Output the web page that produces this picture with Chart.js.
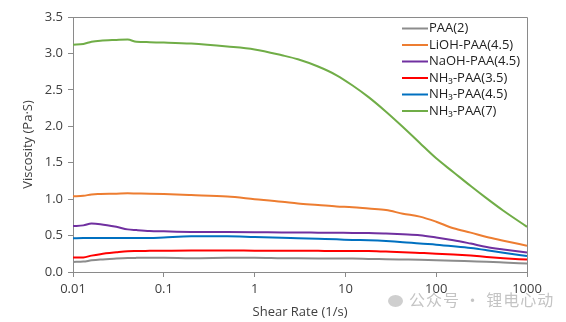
<!DOCTYPE html>
<html>
<head>
<meta charset="utf-8">
<script src="https://cdn.jsdelivr.net/npm/chart.js@4/dist/chart.umd.min.js"></script>
<style>
  html, body { margin: 0; padding: 0; background: #fff; }
  #wrap { position: relative; width: 566px; height: 322px; }
  #mark {
    position: absolute; left: 388px; top: 287px;
    font: 16px "Noto Sans CJK SC", sans-serif; color: #c4c4c4;
    letter-spacing: 1px; white-space: nowrap;
  }
  #mark .dot {
    display: inline-block; width: 15px; height: 12px; border-radius: 50%;
    background: #cfcfcf; margin-right: 6px; vertical-align: -1px;
  }
</style>
</head>
<body>
<div id="wrap">
  <canvas id="chart" width="566" height="322"></canvas>
  <div id="mark"><span class="dot"></span>公众号 · 锂电心动</div>
</div>
<script>
// shear rate (1/s), shared by every curve
const shearRate = [0.01, 0.013, 0.016, 0.02, 0.03, 0.04, 0.05, 0.07, 0.1, 0.2, 0.5, 1, 2, 3, 5, 8, 12, 18, 28, 43, 66, 100, 155, 240, 360, 550, 1000];

const paa2      = [0.138, 0.143, 0.16, 0.172, 0.185, 0.192, 0.194, 0.195, 0.195, 0.19, 0.195, 0.197, 0.19, 0.188, 0.186, 0.185, 0.184, 0.18, 0.176, 0.172, 0.168, 0.16, 0.155, 0.147, 0.14, 0.13, 0.115];
const lioh45    = [1.04, 1.045, 1.065, 1.07, 1.075, 1.08, 1.078, 1.075, 1.07, 1.056, 1.035, 1.0, 0.965, 0.94, 0.92, 0.9, 0.89, 0.87, 0.85, 0.8, 0.76, 0.69, 0.6, 0.54, 0.48, 0.43, 0.36];
const naoh45    = [0.63, 0.64, 0.665, 0.657, 0.62, 0.585, 0.575, 0.563, 0.558, 0.55, 0.548, 0.546, 0.543, 0.542, 0.54, 0.538, 0.537, 0.535, 0.527, 0.517, 0.505, 0.475, 0.437, 0.39, 0.344, 0.31, 0.267];
const nh3_35    = [0.198, 0.2, 0.225, 0.245, 0.27, 0.285, 0.288, 0.29, 0.292, 0.295, 0.295, 0.293, 0.292, 0.291, 0.29, 0.289, 0.289, 0.288, 0.28, 0.272, 0.262, 0.252, 0.24, 0.225, 0.207, 0.19, 0.17];
const nh3_45    = [0.464, 0.465, 0.465, 0.465, 0.466, 0.466, 0.467, 0.467, 0.475, 0.49, 0.49, 0.48, 0.47, 0.463, 0.455, 0.448, 0.44, 0.435, 0.425, 0.41, 0.39, 0.375, 0.354, 0.33, 0.3, 0.265, 0.22];
const nh3_7     = [3.12, 3.13, 3.16, 3.175, 3.185, 3.19, 3.16, 3.155, 3.15, 3.135, 3.095, 3.055, 2.975, 2.92, 2.82, 2.7, 2.56, 2.4, 2.2, 1.99, 1.77, 1.56, 1.37, 1.18, 1.01, 0.84, 0.62];

const seriesLabels = ['PAA(2)', 'LiOH-PAA(4.5)', 'NaOH-PAA(4.5)', 'NH\u2083-PAA(3.5)', 'NH\u2083-PAA(4.5)', 'NH\u2083-PAA(7)'];
const seriesColors = ['#8c8c8c', '#ed7d31', '#7030a0', '#ff0000', '#0070c0', '#70ad47'];
const seriesValues = [paa2, lioh45, naoh45, nh3_35, nh3_45, nh3_7];

const xTicks = [0.01, 0.1, 1, 10, 100, 1000];
const xTickLabels = ['0.01', '0.1', '1', '10', '100', '1000'];
const yTicks = [0, 0.5, 1, 1.5, 2, 2.5, 3, 3.5];

const FONT = '"Open Sans", sans-serif';
const TXT = '#404040';
const AXIS = '#8a8a8a';

// frame around the plot + legend inside top right
const framePlugin = {
  id: 'frame',
  afterDraw(chart) {
    const { ctx, chartArea: a } = chart;
    ctx.save();
    ctx.strokeStyle = AXIS;
    ctx.lineWidth = 1;
    ctx.beginPath();
    ctx.moveTo(a.left, a.top + 0.5);
    ctx.lineTo(a.right + 0.5, a.top + 0.5);
    ctx.lineTo(a.right + 0.5, a.bottom);
    ctx.stroke();

    ctx.font = '13px ' + FONT;
    ctx.textBaseline = 'middle';
    ctx.fillStyle = '#222';
    chart.data.datasets.forEach((ds, i) => {
      const y = a.top + 11.5 + i * 16.5;
      ctx.strokeStyle = ds.borderColor;
      ctx.lineWidth = 2;
      ctx.beginPath();
      ctx.moveTo(a.right - 125, y);
      ctx.lineTo(a.right - 99, y);
      ctx.stroke();
      ctx.fillText(ds.label, a.right - 98, y);
    });
    ctx.restore();
  }
};

new Chart(document.getElementById('chart'), {
  type: 'line',
  data: {
    datasets: seriesLabels.map((label, i) => ({
      label,
      data: shearRate.map((x, j) => ({ x, y: seriesValues[i][j] })),
      borderColor: seriesColors[i],
      borderWidth: 2,
      pointRadius: 0,
      cubicInterpolationMode: 'monotone',
      fill: false,
    })),
  },
  options: {
    responsive: false,
    animation: false,
    layout: { padding: { top: 17, right: 39, left: 0, bottom: 0 } },
    plugins: { legend: { display: false }, tooltip: { enabled: false } },
    scales: {
      x: {
        type: 'logarithmic',
        min: 0.01,
        max: 1000,
        afterBuildTicks: s => { s.ticks = xTicks.map(v => ({ value: v })); },
        afterFit: s => { s.height = 50; },
        ticks: {
          callback: (v, i) => xTickLabels[i],
          color: TXT, font: { family: FONT, size: 13 }, padding: 4,
          maxRotation: 0, autoSkip: false,
        },
        grid: { drawOnChartArea: false, drawTicks: true, tickLength: 5, color: AXIS },
        border: { color: AXIS, width: 1 },
        title: {
          display: true, text: 'Shear Rate (1/s)', color: TXT,
          font: { family: FONT, size: 13 }, padding: { top: 0, bottom: 2 },
        },
      },
      y: {
        min: 0,
        max: 3.5,
        afterBuildTicks: s => { s.ticks = yTicks.map(v => ({ value: v })); },
        afterFit: s => { s.width = 73; },
        ticks: {
          callback: v => v.toFixed(1),
          color: TXT, font: { family: FONT, size: 13 }, padding: 5,
        },
        grid: { drawOnChartArea: false, drawTicks: true, tickLength: 5, color: AXIS },
        border: { color: AXIS, width: 1 },
        title: {
          display: true, text: 'Viscosity (Pa\u00b7S)', color: TXT,
          font: { family: FONT, size: 13 }, padding: { top: 20, bottom: 0 },
        },
      },
    },
  },
  plugins: [framePlugin],
});
</script>
</body>
</html>
